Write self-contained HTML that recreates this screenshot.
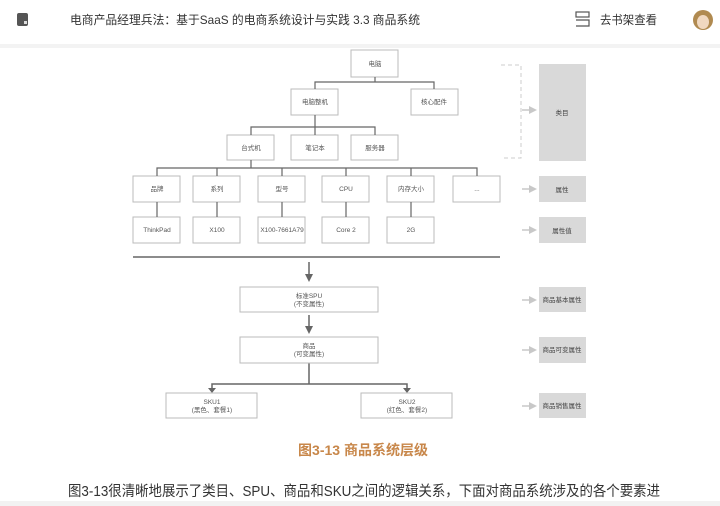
<!DOCTYPE html>
<html><head><meta charset="utf-8"><style>
html,body{margin:0;padding:0;background:#fff;width:720px;height:506px;overflow:hidden;font-family:"Liberation Sans","Noto Sans CJK SC",sans-serif;}
svg{position:absolute;left:0;top:0}
</style></head><body>
<svg width="720" height="506" viewBox="0 0 720 506" xmlns="http://www.w3.org/2000/svg" font-family="Liberation Sans, Noto Sans CJK SC, sans-serif">
<defs>
<marker id="ah" markerWidth="8" markerHeight="8" refX="4" refY="4" orient="auto" markerUnits="userSpaceOnUse"><path d="M0,0 L8,4 L0,8 Z" fill="#666"/></marker>
<marker id="ag" markerWidth="8" markerHeight="8" refX="4" refY="4" orient="auto" markerUnits="userSpaceOnUse"><path d="M0,0 L8,4 L0,8 Z" fill="#c8c8c8"/></marker>
</defs>
<!-- header -->
<rect x="0" y="44" width="720" height="4" fill="#f3f3f3"/>
<rect x="17" y="13" width="11" height="13" rx="2" fill="#555"/>
<rect x="24" y="21" width="3" height="3" fill="#ddd"/>
<text x="70" y="24" font-size="12" fill="#333" textLength="350" lengthAdjust="spacingAndGlyphs">电商产品经理兵法：基于SaaS 的电商系统设计与实践 3.3 商品系统</text>
<g stroke="#555" stroke-width="1.2" fill="none"><rect x="576" y="12" width="13" height="5"/><path d="M576,20 h13 v6 h-13"/></g>
<text x="600" y="24" font-size="12" fill="#333" textLength="57" lengthAdjust="spacingAndGlyphs">去书架查看</text>
<circle cx="703" cy="20" r="10" fill="#b08a50"/>
<ellipse cx="703" cy="22" rx="6" ry="7" fill="#f0d8c0"/>

<!-- top tree -->
<g fill="#fff" stroke="#bbb" stroke-width="1">
<rect x="351" y="50" width="47" height="27"/>
<rect x="291" y="89" width="47" height="26"/>
<rect x="411" y="89" width="47" height="26"/>
<rect x="227" y="135" width="47" height="25"/>
<rect x="291" y="135" width="47" height="25"/>
<rect x="351" y="135" width="47" height="25"/>
<rect x="133" y="176" width="47" height="26"/><rect x="193" y="176" width="47" height="26"/><rect x="258" y="176" width="47" height="26"/><rect x="322" y="176" width="47" height="26"/><rect x="387" y="176" width="47" height="26"/><rect x="453" y="176" width="47" height="26"/>
<rect x="133" y="217" width="47" height="26"/><rect x="193" y="217" width="47" height="26"/><rect x="258" y="217" width="47" height="26"/><rect x="322" y="217" width="47" height="26"/><rect x="387" y="217" width="47" height="26"/>
</g>
<g stroke="#666" stroke-width="1.2" fill="none">
<path d="M375,77 V82 M315,89 V82 H434 V89"/>
<path d="M315,115 V127 M251,135 V127 H375 V135 M315,127 V135"/>
<path d="M251,160 V168 M157,176 V168 H477 V176 M217,168 V176 M282,168 V176 M346,168 V176 M411,168 V176"/>
<path d="M157,202 V217 M217,202 V217 M282,202 V217 M346,202 V217 M411,202 V217"/>
</g>
<g font-size="6.5" fill="#555" text-anchor="middle">
<text x="375" y="66">电脑</text>
<text x="315" y="104">电脑整机</text><text x="434" y="104">核心配件</text>
<text x="251" y="150">台式机</text><text x="315" y="150">笔记本</text><text x="375" y="150">服务器</text>
<text x="157" y="191">品牌</text><text x="217" y="191">系列</text><text x="282" y="191">型号</text><text x="346" y="191">CPU</text><text x="411" y="191">内存大小</text><text x="477" y="191">...</text>
<text x="157" y="232">ThinkPad</text><text x="217" y="232">X100</text><text x="282" y="232">X100-7661A79</text><text x="346" y="232">Core 2</text><text x="411" y="232">2G</text>
</g>
<!-- right side -->
<path d="M501,65 H521 V158 H501" stroke="#ccc" stroke-dasharray="4,3" fill="none"/>
<g fill="#d9d9d9">
<rect x="539" y="64" width="47" height="97"/>
<rect x="539" y="176" width="47" height="26"/>
<rect x="539" y="217" width="47" height="26"/>
<rect x="539" y="287" width="47" height="25"/>
<rect x="539" y="337" width="47" height="26"/>
<rect x="539" y="393" width="47" height="25"/>
</g>
<g stroke="#c8c8c8" stroke-width="1.5" marker-end="url(#ag)">
<line x1="522" y1="110" x2="533" y2="110"/><line x1="522" y1="189" x2="533" y2="189"/><line x1="522" y1="230" x2="533" y2="230"/>
<line x1="522" y1="300" x2="533" y2="300"/><line x1="522" y1="350" x2="533" y2="350"/><line x1="522" y1="406" x2="533" y2="406"/>
</g>
<g font-size="6.5" fill="#444" text-anchor="middle">
<text x="562" y="115">类目</text><text x="562" y="192">属性</text><text x="562" y="233">属性值</text>
<text x="562" y="302">商品基本属性</text><text x="562" y="352">商品可变属性</text><text x="562" y="408">商品销售属性</text>
</g>
<!-- bottom part -->
<line x1="133" y1="257" x2="500" y2="257" stroke="#666" stroke-width="1.5"/>
<g stroke="#666" stroke-width="1.5" fill="none">
<line x1="309" y1="262" x2="309" y2="278" marker-end="url(#ah)"/>
<line x1="309" y1="315" x2="309" y2="330" marker-end="url(#ah)"/>
<path d="M309,363 V384 M212,389 V384 H407 V389"/>
</g>
<path d="M208,388 h8 l-4,5z M403,388 h8 l-4,5z" fill="#666"/>
<g fill="#fff" stroke="#bbb">
<rect x="240" y="287" width="138" height="25"/>
<rect x="240" y="337" width="138" height="26"/>
<rect x="166" y="393" width="91" height="25"/>
<rect x="361" y="393" width="91" height="25"/>
</g>
<g font-size="6.5" fill="#555" text-anchor="middle">
<text x="309" y="298">标准SPU</text><text x="309" y="306">(不变属性)</text>
<text x="309" y="348">商品</text><text x="309" y="356">(可变属性)</text>
<text x="212" y="404">SKU1</text><text x="212" y="412">(黑色、套餐1)</text>
<text x="407" y="404">SKU2</text><text x="407" y="412">(红色、套餐2)</text>
</g>
<text x="363" y="455" font-size="14" font-weight="bold" fill="#c8874a" text-anchor="middle">图3-13 商品系统层级</text>
<text x="68" y="496" font-size="14.5" fill="#333" textLength="592" lengthAdjust="spacingAndGlyphs">图3-13很清晰地展示了类目、SPU、商品和SKU之间的逻辑关系，下面对商品系统涉及的各个要素进</text>
<rect x="0" y="501" width="720" height="5" fill="#f2f2f2"/>
</svg>
</body></html>
